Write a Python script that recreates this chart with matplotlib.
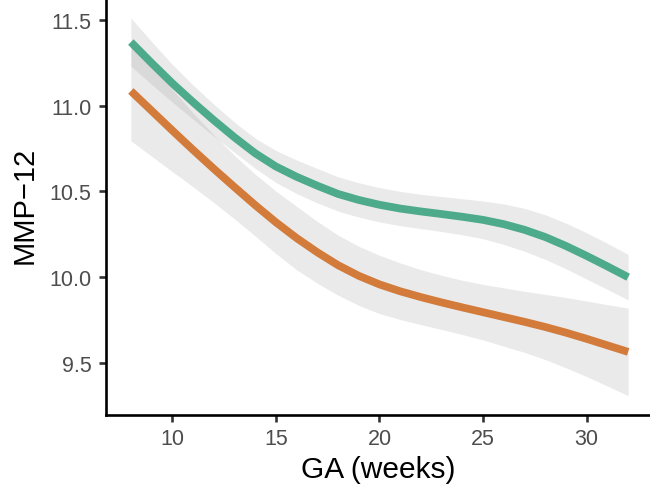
import numpy as np
import matplotlib
matplotlib.use("Agg")
import matplotlib.pyplot as plt

plt.rcParams['font.family'] = ['Liberation Sans', 'DejaVu Sans']

# ---- data ----
ga_weeks = [8, 9, 10, 11, 12, 13, 14, 15, 16, 17, 18, 19, 20,
            21, 22, 23, 24, 25, 26, 27, 28, 29, 30, 31, 32]

green_fit = [11.37, 11.248, 11.13, 11.02, 10.915, 10.815, 10.722, 10.645, 10.585,
             10.533, 10.485, 10.45, 10.422, 10.40, 10.383, 10.368, 10.352, 10.334,
             10.309, 10.276, 10.234, 10.182, 10.124, 10.063, 10.00]
green_se = [0.14, 0.125, 0.11, 0.10, 0.093, 0.088, 0.088, 0.093, 0.098, 0.10,
            0.10, 0.10, 0.10, 0.10, 0.10, 0.102, 0.105, 0.11, 0.118, 0.125,
            0.13, 0.133, 0.135, 0.134, 0.133]

orange_fit = [11.085, 10.97, 10.855, 10.742, 10.632, 10.525, 10.42, 10.32, 10.228,
              10.145, 10.07, 10.008, 9.958, 9.918, 9.884, 9.853, 9.824, 9.796,
              9.768, 9.74, 9.71, 9.677, 9.641, 9.603, 9.565]
orange_se = [0.29, 0.265, 0.24, 0.215, 0.197, 0.185, 0.18, 0.182, 0.185, 0.18,
             0.175, 0.172, 0.17, 0.165, 0.16, 0.158, 0.158, 0.162, 0.17, 0.178,
             0.19, 0.205, 0.22, 0.237, 0.255]

x_ticks = [10, 15, 20, 25, 30]
y_ticks = [9.5, 10.0, 10.5, 11.0, 11.5]

GREEN = '#4DAA8B'
ORANGE = '#D27B3A'
RIBBON = '#999999'

W, H = 650, 489
fig = plt.figure(figsize=(6.5, 4.89), dpi=100)
left, right, bottom, top = 106, 653, 415.7, -5
ax = fig.add_axes([left / W, (H - bottom) / H, (right - left) / W, (bottom - top) / H])

x = np.array(ga_weeks)
for fit, se, col in [(green_fit, green_se, GREEN), (orange_fit, orange_se, ORANGE)]:
    fit = np.array(fit)
    se = np.array(se)
    ax.fill_between(x, fit - se, fit + se, color=RIBBON, alpha=0.2, linewidth=0)
    ax.plot(x, fit, color=col, linewidth=5.6, solid_capstyle='butt', solid_joinstyle='round')

ax.set_xlim(6.8, 33.2)
ax.set_ylim(9.199, 11.65)
ax.set_xticks(x_ticks)
ax.set_xticklabels([str(t) for t in x_ticks])
ax.set_yticks(y_ticks)
ax.set_yticklabels([f"{t:.1f}" for t in y_ticks])

for s in ['top', 'right']:
    ax.spines[s].set_visible(False)
for s in ['left', 'bottom']:
    ax.spines[s].set_linewidth(1.9)
    ax.spines[s].set_color('black')
ax.tick_params(axis='both', length=5, width=1.9, color='#333333',
               labelsize=15.5, labelcolor='#4D4D4D')
ax.tick_params(axis='y', pad=5.5)
ax.tick_params(axis='x', pad=4.5)

fig.text(378 / W, (H - 478) / H, 'GA (weeks)', ha='center', va='baseline', fontsize=21.5, color='black')
fig.text(32.5 / W, (H - 205.5) / H, 'MMP\u221212', rotation=90, rotation_mode='anchor',
         ha='center', va='baseline', fontsize=21, color='black')

fig.savefig('out.png', dpi=100)
